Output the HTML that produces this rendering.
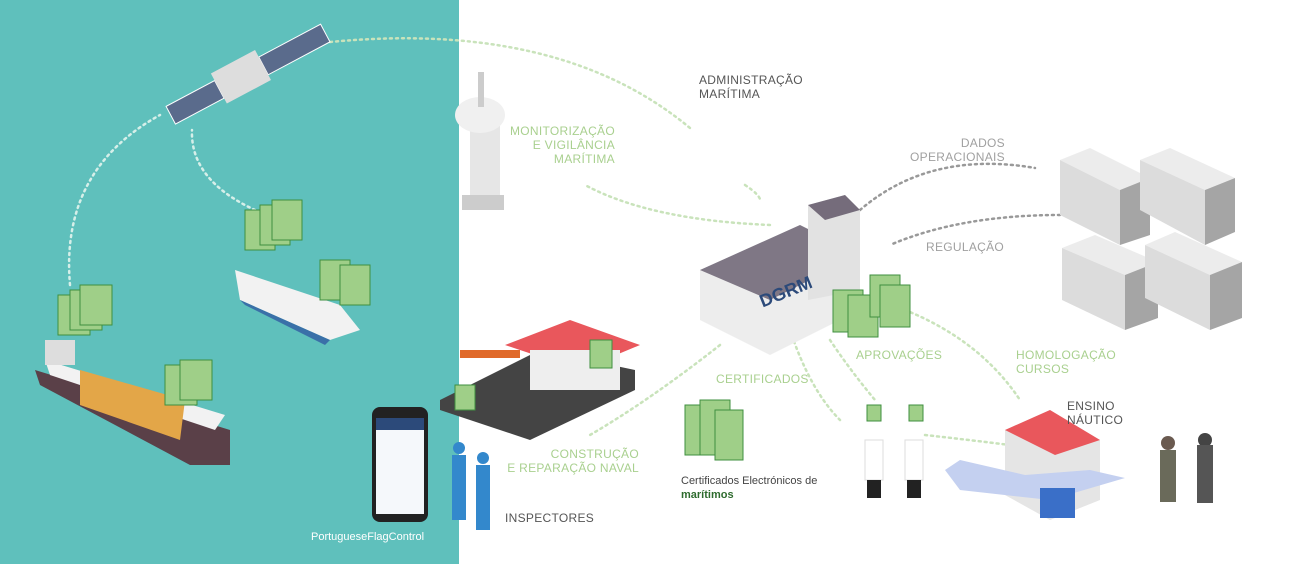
<!DOCTYPE html>
<html><head><meta charset="utf-8"><style>
body{margin:0;width:1300px;height:564px;overflow:hidden;background:#fff;font-family:"Liberation Sans",sans-serif;position:relative}
.t{position:absolute;font-size:12px;letter-spacing:.3px;line-height:14px;white-space:nowrap}
.g{color:#a9d08f}.k{color:#a0a0a0}.d{color:#555}
</style></head><body>
<div style="position:absolute;left:0;top:0;width:459px;height:564px;background:#5fc0bc"></div>
<svg width="1300" height="564" style="position:absolute;left:0;top:0">
<g fill="none" stroke-dasharray="2 4" stroke-width="2.5" stroke-linecap="round">
<path d="M330 42 Q560 20 690 128" stroke="#c9e3bb"/>
<path d="M70 285 Q60 170 160 115" stroke="#d6efe9"/>
<path d="M255 210 Q190 180 192 130" stroke="#d6efe9"/>
<path d="M770 225 Q650 220 585 185" stroke="#c9e3bb"/>
<path d="M745 185 Q760 195 760 200" stroke="#c9e3bb"/>
<path d="M860 210 Q930 150 1035 168" stroke="#999"/>
<path d="M1060 215 Q960 215 890 245" stroke="#999"/>
<path d="M720 345 Q650 400 590 435" stroke="#c9e3bb"/>
<path d="M790 330 Q810 390 840 420" stroke="#c9e3bb"/>
<path d="M830 340 Q850 370 875 400" stroke="#c9e3bb"/>
<path d="M905 310 Q980 340 1020 400" stroke="#c9e3bb"/>
<path d="M925 435 Q970 440 1010 445" stroke="#c9e3bb"/>
</g>
<g transform="rotate(-28 240 75)">
<rect x="160" y="68" width="55" height="20" fill="#5a6b8c" stroke="#fff"/>
<rect x="265" y="68" width="70" height="20" fill="#5a6b8c" stroke="#fff"/>
<rect x="215" y="60" width="50" height="34" fill="#ddd"/>
</g>
<rect x="470" y="125" width="30" height="80" fill="#e6e6e6"/>
<ellipse cx="480" cy="115" rx="25" ry="18" fill="#f0f0f0"/>
<rect x="478" y="72" width="6" height="35" fill="#ccc"/>
<rect x="462" y="195" width="42" height="15" fill="#ccc"/>
<polygon points="35,370 230,430 230,465 190,465 40,385" fill="#5a4048"/>
<polygon points="45,360 225,415 215,430 50,375" fill="#f2f2f2"/>
<polygon points="80,370 185,400 180,440 80,405" fill="#e3a648"/>
<rect x="45" y="340" width="30" height="25" fill="#ddd"/>
<polygon points="235,270 340,305 360,330 330,340 240,300" fill="#f2f2f2"/>
<polygon points="240,300 330,340 325,345 245,305" fill="#3a70a8"/>
<polygon points="440,400 540,350 635,370 635,390 530,440 440,410" fill="#444"/>
<rect x="460" y="350" width="60" height="8" fill="#e06a2a"/>
<polygon points="505,345 570,320 640,345 580,370" fill="#e9575c"/>
<rect x="530" y="350" width="90" height="40" fill="#eee"/>
<rect x="372" y="407" width="56" height="115" rx="8" fill="#222"/>
<rect x="376" y="418" width="48" height="96" fill="#f5f8fb"/>
<rect x="376" y="418" width="48" height="12" fill="#2c4a7a"/>
<rect x="452" y="455" width="14" height="65" fill="#3388cc"/><circle cx="459" cy="448" r="6" fill="#3388cc"/>
<rect x="476" y="465" width="14" height="65" fill="#3388cc"/><circle cx="483" cy="458" r="6" fill="#3388cc"/>
<polygon points="700,270 800,225 860,255 860,310 770,355 700,320" fill="#ededed"/>
<polygon points="700,270 800,225 860,255 770,300" fill="#7f7785"/>
<polygon points="808,205 845,195 860,210 860,290 808,300" fill="#e2e2e2"/>
<polygon points="808,205 845,195 860,210 825,220" fill="#756c7b"/>
<text x="758" y="300" font-size="18" font-weight="bold" fill="#2c4a7a" font-family="Liberation Sans" transform="rotate(-22 780 292)">DGRM</text>
<g>
<polygon points="1060,160 1090,148 1150,178 1120,190" fill="#ececec"/>
<polygon points="1060,160 1120,190 1120,245 1060,215" fill="#dcdcdc"/>
<polygon points="1120,190 1150,178 1150,235 1120,245" fill="#a5a5a5"/>
<polygon points="1140,160 1170,148 1235,178 1205,190" fill="#ececec"/>
<polygon points="1140,160 1205,190 1205,245 1140,210" fill="#dcdcdc"/>
<polygon points="1205,190 1235,178 1235,232 1205,245" fill="#a5a5a5"/>
<polygon points="1062,248 1095,235 1158,262 1125,275" fill="#ececec"/>
<polygon points="1062,248 1125,275 1125,330 1062,300" fill="#dcdcdc"/>
<polygon points="1125,275 1158,262 1158,318 1125,330" fill="#a5a5a5"/>
<polygon points="1145,245 1175,232 1242,262 1210,275" fill="#ececec"/>
<polygon points="1145,245 1210,275 1210,330 1145,298" fill="#dcdcdc"/>
<polygon points="1210,275 1242,262 1242,318 1210,330" fill="#a5a5a5"/>
</g>
<polygon points="1005,430 1050,410 1100,440 1100,500 1050,520 1005,495" fill="#e5e5e5"/>
<polygon points="1005,430 1050,410 1100,440 1055,455" fill="#e9575c"/>
<polygon points="945,470 960,460 1025,475 1090,470 1125,478 1050,500 960,490" fill="#c4d0f0"/>
<rect x="1040" y="488" width="35" height="30" fill="#3a6fc8"/>
<g fill="#fff" stroke="#ddd"><rect x="865" y="440" width="18" height="40"/><rect x="905" y="440" width="18" height="40"/></g>
<rect x="867" y="480" width="14" height="18" fill="#222"/><rect x="907" y="480" width="14" height="18" fill="#222"/>
<circle cx="1168" cy="443" r="7" fill="#6a5a50"/><circle cx="1205" cy="440" r="7" fill="#444"/>
<rect x="1160" y="450" width="16" height="52" fill="#6a6a5a"/><rect x="1197" y="445" width="16" height="58" fill="#555"/>
<g fill="#9fcf88" stroke="#3f8f3f" stroke-width="1">
<rect x="58" y="295" width="32" height="40"/><rect x="70" y="290" width="32" height="40"/><rect x="80" y="285" width="32" height="40"/>
<rect x="245" y="210" width="30" height="40"/><rect x="260" y="205" width="30" height="40"/><rect x="272" y="200" width="30" height="40"/>
<rect x="320" y="260" width="30" height="40"/><rect x="340" y="265" width="30" height="40"/>
<rect x="165" y="365" width="32" height="40"/><rect x="180" y="360" width="32" height="40"/>
<rect x="455" y="385" width="20" height="25"/><rect x="590" y="340" width="22" height="28"/>
<rect x="833" y="290" width="30" height="42"/><rect x="848" y="295" width="30" height="42"/><rect x="870" y="275" width="30" height="42"/><rect x="880" y="285" width="30" height="42"/>
<rect x="685" y="405" width="30" height="50"/><rect x="700" y="400" width="30" height="55"/><rect x="715" y="410" width="28" height="50"/>
<rect x="867" y="405" width="14" height="16"/><rect x="909" y="405" width="14" height="16"/>
</g>
</svg>
<div class="t d" style="left:699px;top:73px">ADMINISTRAÇÃO<br>MARÍTIMA</div>
<div class="t g" style="left:495px;top:124px;text-align:right;width:120px">MONITORIZAÇÃO<br>E VIGILÂNCIA<br>MARÍTIMA</div>
<div class="t k" style="left:900px;top:136px;text-align:right;width:105px">DADOS<br>OPERACIONAIS</div>
<div class="t k" style="left:926px;top:240px">REGULAÇÃO</div>
<div class="t g" style="left:856px;top:348px">APROVAÇÕES</div>
<div class="t g" style="left:1016px;top:348px">HOMOLOGAÇÃO<br>CURSOS</div>
<div class="t g" style="left:716px;top:372px">CERTIFICADOS</div>
<div class="t d" style="left:1067px;top:399px">ENSINO<br>NÁUTICO</div>
<div class="t g" style="left:480px;top:447px;text-align:right;width:159px">CONSTRUÇÃO<br>E REPARAÇÃO NAVAL</div>
<div class="t" style="left:681px;top:474px;font-size:11px;color:#444;letter-spacing:0">Certificados Electrónicos de<br><b style="color:#2e6b2e">marítimos</b></div>
<div class="t d" style="left:505px;top:511px">INSPECTORES</div>
<div class="t" style="left:311px;top:530px;color:#fff;font-size:11px;letter-spacing:0">PortugueseFlagControl</div>
</body></html>
